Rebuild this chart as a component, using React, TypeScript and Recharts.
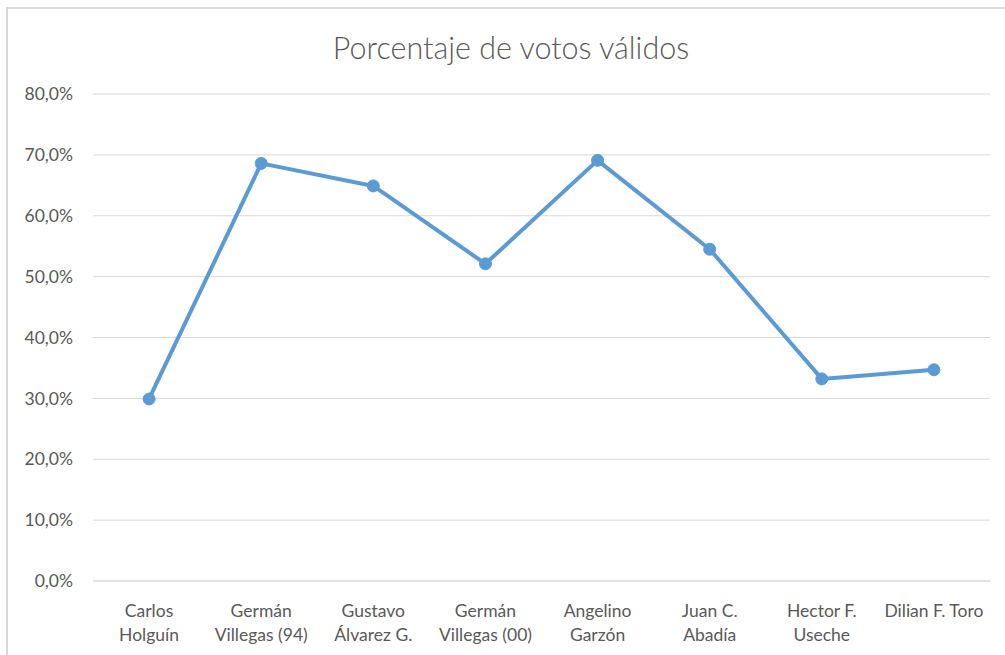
import React from "react";
import { LineChart, Line, XAxis, YAxis, CartesianGrid } from "recharts";

const categories = [
  "Carlos\nHolguín",
  "Germán\nVillegas (94)",
  "Gustavo\nÁlvarez G.",
  "Germán\nVillegas (00)",
  "Angelino\nGarzón",
  "Juan C.\nAbadía",
  "Hector F.\nUseche",
  "Dilian F. Toro",
];
const values = [29.9, 68.6, 64.9, 52.1, 69.1, 54.5, 33.2, 34.7];
const yTicks = [0, 10, 20, 30, 40, 50, 60, 70, 80];

const data = categories.map((c, i) => ({ name: c, value: values[i] }));

const FONT = "Lato, 'Open Sans', sans-serif";
const TEXT = "#595959";

const CatTick = (props: any) => {
  const { x, y, payload } = props;
  const lines = String(payload.value).split("\n");
  return (
    <text x={x} y={y} textAnchor="middle" fill={TEXT} fontSize={17.5} fontFamily={FONT}>
      {lines.map((l: string, i: number) => (
        <tspan key={i} x={x} dy={i === 0 ? 34 : 24}>
          {l}
        </tspan>
      ))}
    </text>
  );
};

export default function App() {
  return (
    <div style={{ position: "absolute", left: 0, top: 0, width: 1005, height: 655, background: "#fff" }}>
      <div
        style={{
          position: "absolute",
          left: 6,
          top: 7,
          width: 1010,
          height: 660,
          border: "2px solid #d9d9d9",
          boxSizing: "border-box",
        }}
      />
      <div
        style={{
          position: "absolute",
          left: 0,
          width: 1022,
          top: 27,
          textAlign: "center",
          fontFamily: FONT,
          fontWeight: 300,
          fontSize: 30.5,
          lineHeight: "40px",
          color: TEXT,
        }}
      >
        Porcentaje de votos válidos
      </div>
      <div style={{ position: "absolute", left: 0, top: 0 }}>
        <LineChart
          width={1005}
          height={655}
          data={data}
          margin={{ top: 94, right: 15, bottom: 0, left: 0 }}
        >
          <CartesianGrid vertical={false} stroke="#d9d9d9" strokeWidth={1} />
          <XAxis
            dataKey="name"
            scale="band"
            height={74}
            axisLine={{ stroke: "#d9d9d9" }}
            tickLine={false}
            tickSize={0}
            tick={<CatTick />}
            interval={0}
          />
          <YAxis
            width={93}
            domain={[0, 80]}
            ticks={yTicks}
            axisLine={false}
            tickLine={false}
            tickSize={0}
            tickMargin={20}
            tick={{ fill: TEXT, fontSize: 17.5, fontFamily: FONT }}
            tickFormatter={(v: number) => v.toFixed(1).replace(".", ",") + "%"}
          />
          <Line
            dataKey="value"
            stroke="#5b9bd5"
            strokeWidth={4}
            strokeLinejoin="round"
            dot={{ r: 6, fill: "#5b9bd5", stroke: "#5b9bd5", strokeWidth: 1 }}
            isAnimationActive={false}
          />
        </LineChart>
      </div>
    </div>
  );
}
